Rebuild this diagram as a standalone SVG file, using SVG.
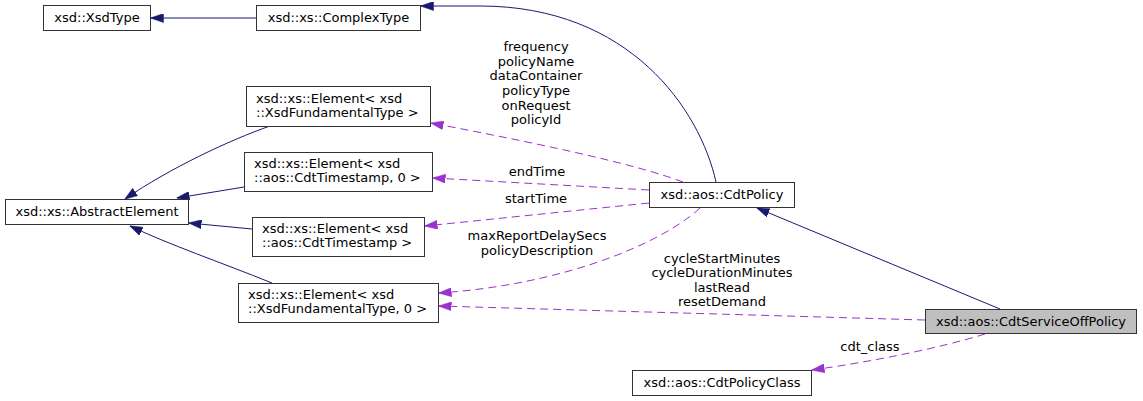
<svg xmlns="http://www.w3.org/2000/svg" width="1143" height="401" viewBox="0 0 1143 401">
<style>
.box{fill:#ffffff;stroke:#333333;stroke-width:1}
.hl{fill:#bfbfbf;stroke:#333333;stroke-width:1}
text{font-family:"DejaVu Sans","Liberation Sans",sans-serif;font-size:13px;fill:#000}
.c{text-anchor:middle}
.inh{fill:none;stroke:#191970;stroke-width:1;marker-end:url(#ah1)}
.use{fill:none;stroke:#9a32cd;stroke-width:1;stroke-dasharray:8,5;marker-end:url(#ah2)}
</style>
<defs>
<marker id="ah1" markerUnits="userSpaceOnUse" viewBox="0 0 13 9" markerWidth="13" markerHeight="9" refX="12.5" refY="4.5" orient="auto">
<path d="M0,0 L13,4.5 L0,9 Z" fill="#191970" stroke="#191970" stroke-width="0.5"/>
</marker>
<marker id="ah2" markerUnits="userSpaceOnUse" viewBox="0 0 13 9" markerWidth="13" markerHeight="9" refX="12.5" refY="4.5" orient="auto">
<path d="M0,0 L13,4.5 L0,9 Z" fill="#9a32cd" stroke="#9a32cd" stroke-width="0.5"/>
</marker>
</defs>
<g id="edges">
<path class="inh" d="M256,18 L151,18"/>
<path class="inh" d="M716,182 C700,110 630,6 480,6 L421,6"/>
<path class="inh" d="M270,126 C230,140 170,168 125,199"/>
<path class="inh" d="M244,187 L177,198"/>
<path class="inh" d="M252,229 L189,223"/>
<path class="inh" d="M272,283 C220,262 170,245 130,226"/>
<path class="inh" d="M1000,309 L757,208"/>
<path class="use" d="M683,182 C630,162 520,140 431,123"/>
<path class="use" d="M649,190 L433,178"/>
<path class="use" d="M649,203 L425,226"/>
<path class="use" d="M700,208 C660,245 560,285 439,293"/>
<path class="use" d="M925,320 L439,306"/>
<path class="use" d="M985,334 C940,348 870,362 812,370"/>
<text class="c" x="536" y="51">frequency</text>
<text class="c" x="536" y="66">policyName</text>
<text class="c" x="536" y="80">dataContainer</text>
<text class="c" x="536" y="95">policyType</text>
<text class="c" x="536" y="110">onRequest</text>
<text class="c" x="536" y="124">policyId</text>
<text class="c" x="537" y="176">endTime</text>
<text class="c" x="536" y="203">startTime</text>
<text class="c" x="537" y="240">maxReportDelaySecs</text>
<text class="c" x="537" y="255">policyDescription</text>
<text class="c" x="722" y="263">cycleStartMinutes</text>
<text class="c" x="722" y="277">cycleDurationMinutes</text>
<text class="c" x="722" y="292">lastRead</text>
<text class="c" x="722" y="306">resetDemand</text>
<text class="c" x="870" y="351">cdt_class</text>
</g>
<g id="XsdType"><rect class="box" x="43.5" y="5.5" width="107" height="25"/><text class="c" x="97" y="22">xsd::XsdType</text></g>
<g id="ComplexType"><rect class="box" x="256.5" y="5.5" width="164" height="25"/><text class="c" x="338.5" y="22">xsd::xs::ComplexType</text></g>
<g id="ElementFund"><rect class="box" x="246.5" y="86.5" width="184" height="40"/><text x="256" y="103">xsd::xs::Element&lt; xsd</text><text x="256" y="117">::XsdFundamentalType &gt;</text></g>
<g id="AbstractElement"><rect class="box" x="5.5" y="199.5" width="183" height="25"/><text class="c" x="97" y="216">xsd::xs::AbstractElement</text></g>
<g id="ElementTs0"><rect class="box" x="244.5" y="152.5" width="188" height="39"/><text x="254" y="168">xsd::xs::Element&lt; xsd</text><text x="254" y="182">::aos::CdtTimestamp, 0 &gt;</text></g>
<g id="ElementTs"><rect class="box" x="252.5" y="217.5" width="172" height="39"/><text x="262" y="233">xsd::xs::Element&lt; xsd</text><text x="262" y="247">::aos::CdtTimestamp &gt;</text></g>
<g id="ElementFund0"><rect class="box" x="238.5" y="283.5" width="200" height="39"/><text x="248" y="299">xsd::xs::Element&lt; xsd</text><text x="248" y="313">::XsdFundamentalType, 0 &gt;</text></g>
<g id="CdtPolicy"><rect class="box" x="649.5" y="182.5" width="145" height="25"/><text class="c" x="722" y="199">xsd::aos::CdtPolicy</text></g>
<g id="CdtServiceOffPolicy"><rect class="hl" x="925.5" y="309.5" width="211" height="24"/><text class="c" x="1031" y="326">xsd::aos::CdtServiceOffPolicy</text></g>
<g id="CdtPolicyClass"><rect class="box" x="632.5" y="370.5" width="179" height="25"/><text class="c" x="722" y="387">xsd::aos::CdtPolicyClass</text></g>
</svg>
